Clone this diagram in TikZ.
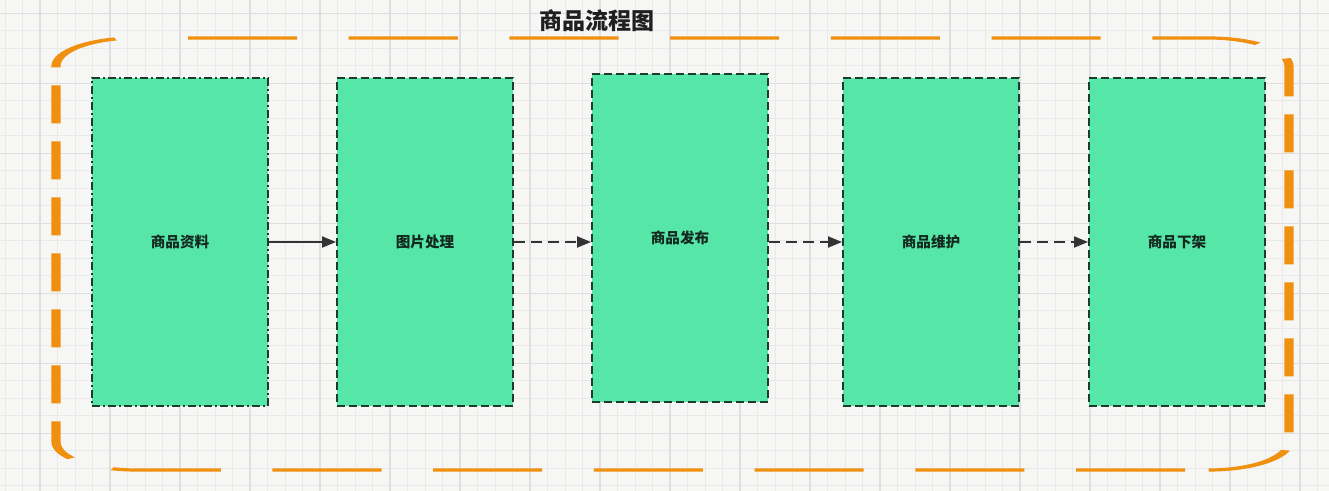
\documentclass[tikz,border=0pt]{standalone}
\usepackage{fontspec}
\newfontfamily\cjk{Noto Sans CJK SC}
\usetikzlibrary{arrows.meta}
\definecolor{bgc}{HTML}{F6F6F4}
\definecolor{gminor}{HTML}{E9E9E9}
\definecolor{gmajor}{HTML}{DEDEDE}
\definecolor{framec}{HTML}{F0900F}
\definecolor{boxfill}{HTML}{55E6A8}
\definecolor{boxline}{HTML}{1E3B30}
\definecolor{labelc}{HTML}{13291F}
\definecolor{arrowc}{HTML}{333333}
\tikzset{
  gridminor/.style={draw=gminor, line width=0.5pt},
  gridmajor/.style={draw=gmajor, line width=0.6pt},
  frame/.style={draw=framec, line width=1.6pt, rounded corners=14pt,
    dash pattern=on 19pt off 9pt, dash phase=19pt},
  procbox/.style={draw=boxline, fill=boxfill, line width=1pt,
    minimum width=88pt, minimum height=164pt, inner sep=0pt,
    dash pattern=on 4pt off 2pt,
    font=\cjk\bfseries\fontsize{7.3pt}{9pt}\selectfont, text=labelc},
  dashdotbox/.style={dash pattern=on 4pt off 1.5pt on 1pt off 1.5pt},
  flow/.style={draw=arrowc, line width=1pt, -{Triangle[length=7pt,width=5.5pt]}},
  dflow/.style={flow, dash pattern=on 5.5pt off 3pt},
  titletext/.style={font=\cjk\bfseries\fontsize{11.5pt}{13pt}\selectfont, text=black!88}
}
\begin{document}
\begin{tikzpicture}[x=0.5pt,y=-0.5pt]
\useasboundingbox (0,0) rectangle (1329,491);
\fill[bgc] (0,0) rectangle (1329,491);
% grid
\foreach \i in {0,...,75} {\draw[gridminor] (5+17.5*\i,0) -- (5+17.5*\i,491);}
\foreach \i in {0,...,28} {\draw[gridminor] (0,13.3+17.5*\i) -- (1329,13.3+17.5*\i);}
\foreach \i in {0,...,18} {\draw[gridmajor] (40+70*\i,0) -- (40+70*\i,491);}
\foreach \i in {0,...,7} {\draw[gridmajor] (0,13.3+70*\i) -- (1329,13.3+70*\i);}
% orange frame (stretched horizontally, as in the reference)
\begin{scope}[transform canvas={xscale=2.87}]
\coordinate (fA) at (47.51,38);
\coordinate (fTR) at (449.13,38);
\coordinate (fBR) at (449.13,470);
\coordinate (fB1) at (421.13,470);
\coordinate (fBL) at (19.51,470);
\coordinate (fTL) at (19.51,38);
\draw[frame] (fA) -- (fTR) -- (fBR) -- (fB1);
\draw[frame, dash phase=23.9pt] (fB1) -- (fBL) -- (fTL) -- (fA);
\end{scope}
% title
\node[titletext] (title) at (597,21) {商品流程图};
% boxes
\node[procbox, dashdotbox] (b1) at (180,242) {商品资料};
\node[procbox] (b2) at (425,242) {图片处理};
\node[procbox] (b3) at (680,238) {商品发布};
\node[procbox] (b4) at (931,242) {商品维护};
\node[procbox] (b5) at (1177,242) {商品下架};
% connectors
\draw[flow] (b1.east) -- (b2.west);
\draw[dflow] (b2.east) -- (b2.east -| b3.west);
\draw[dflow] (b4.west -| b3.east) -- (b4.west);
\draw[dflow] (b4.east) -- (b5.west);
\end{tikzpicture}
\end{document}
